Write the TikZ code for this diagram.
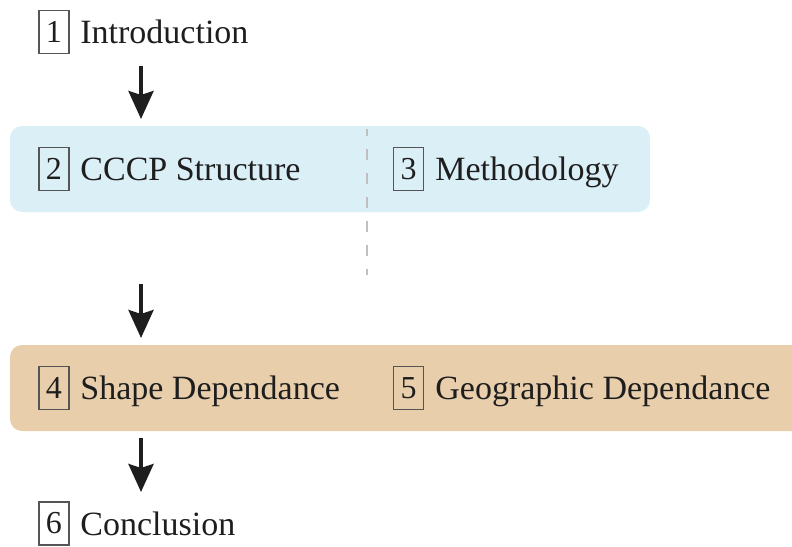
\documentclass[tikz,border=0pt]{standalone}
\IfFileExists{pplr8t.tfm}{%
  \usepackage[T1]{fontenc}%
  \renewcommand{\rmdefault}{ppl}%
}{%
  \usepackage{fontspec}%
  \setmainfont{Liberation Serif}%
}
\usetikzlibrary{arrows.meta}
\definecolor{bandblue}{HTML}{DBEFF6}
\definecolor{bandtan}{HTML}{E8CEAB}
\definecolor{inkdark}{HTML}{1E1E1E}
\definecolor{framegray}{HTML}{555555}
\definecolor{dashgray}{HTML}{C0C0C0}
\tikzset{
  secnum/.style={draw=framegray, line width=0.6pt, minimum width=15pt,
    minimum height=21.5pt, inner sep=0pt, text=inkdark,
    font=\fontsize{16}{19}\selectfont},
  sectitle/.style={anchor=base west, inner sep=0pt, text=inkdark,
    font=\fontsize{17}{20}\selectfont},
  band/.style={rounded corners=6pt},
  flow/.style={draw=inkdark, line width=2pt,
    -{Stealth[width=12.5pt,length=14pt,inset=2pt]}},
  divider/.style={draw=dashgray, line width=1pt,
    dash pattern=on 5.5pt off 6.5pt, dash phase=2pt}
}
\begin{document}
\begin{tikzpicture}[x=0.5pt,y=-0.5pt]
  \useasboundingbox (0,0) rectangle (792,546);
  \begin{scope}
    \clip (0,0) rectangle (792,546);
    % background bands
    \fill[bandblue, band] (10,126) rectangle (650,212);
    \fill[bandtan, band] (10,345) rectangle (820,431);
  \end{scope}
  % vertical divider between sections 2 and 3
  \coordinate (divtop) at (367,129);
  \coordinate (divbot) at (367,275);
  \draw[divider] (divtop) -- (divbot);

  % section labels
  \node[secnum] (n1) at (54,32) {1};
  \node[sectitle] (t1) at (80,43.5) {Introduction};
  \node[secnum] (n2) at (54,169) {2};
  \node[sectitle] (t2) at (80,180.5) {CCCP Structure};
  \node[secnum] (n3) at (408.5,169) {3};
  \node[sectitle] (t3) at (435,180.5) {Methodology};
  \node[secnum] (n4) at (54,388) {4};
  \node[sectitle] (t4) at (80,399.5) {Shape Dependance};
  \node[secnum] (n5) at (408.5,388) {5};
  \node[sectitle] (t5) at (435,399.5) {Geographic Dependance};
  \node[secnum] (n6) at (54,523.5) {6};
  \node[sectitle] (t6) at (80,535) {Conclusion};

  % flow arrows
  \coordinate (a1s) at (141,66);
  \coordinate (a1e) at (141,119);
  \coordinate (a2s) at (141,284);
  \coordinate (a2e) at (141,338);
  \coordinate (a3s) at (141,438);
  \coordinate (a3e) at (141,492);
  \draw[flow] (a1s) -- (a1e);
  \draw[flow] (a2s) -- (a2e);
  \draw[flow] (a3s) -- (a3e);
\end{tikzpicture}
\end{document}
